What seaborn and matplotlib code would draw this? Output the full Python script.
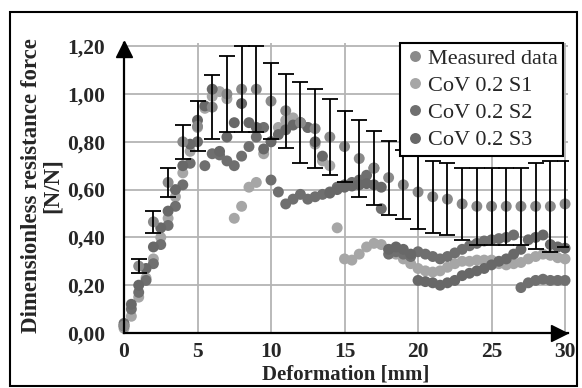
import numpy as np
import pandas as pd
import matplotlib
matplotlib.use("Agg")
import matplotlib.pyplot as plt
import seaborn as sns
from matplotlib.patches import Rectangle

# ---------------- data ----------------
meas_x = list(range(0, 31))
meas_y = [0.03, 0.28, 0.465, 0.63, 0.80, 0.865, 0.945, 1.00, 1.02, 1.02, 0.97,
          0.93, 0.88, 0.855, 0.82, 0.78, 0.73, 0.69, 0.65, 0.62, 0.59,
          0.57, 0.56, 0.54, 0.53, 0.53, 0.53, 0.53, 0.53, 0.53, 0.54]
meas_err = [0.0, 0.03, 0.045, 0.06, 0.07, 0.105, 0.135, 0.16, 0.18, 0.18, 0.16,
            0.155, 0.17, 0.165, 0.16, 0.15, 0.16, 0.155, 0.155, 0.145, 0.155,
            0.15, 0.15, 0.15, 0.16, 0.16, 0.16, 0.16, 0.18, 0.19, 0.18]

sim_x = np.arange(0, 30.01, 0.5)
s1_y = [0.02, 0.07, 0.15, 0.23, 0.31, 0.40, 0.48, 0.57, 0.67, 0.76,
        0.86, 0.94, 0.99, 1.01, 0.98, 0.48, 0.53, 0.61, 0.63, 0.75,
        0.80, 0.86, 0.89, 0.90, 0.88, 0.86, 0.79, 0.72, 0.70, 0.44,
        0.31, 0.305, 0.33, 0.36, 0.375, 0.37, 0.35, 0.33, 0.31, 0.29,
        0.27, 0.26, 0.255, 0.26, 0.275, 0.29, 0.30, 0.30, 0.305, 0.305,
        0.305, 0.29, 0.285, 0.29, 0.295, 0.31, 0.32, 0.33, 0.325, 0.315,
        0.31]
s2_y = [0.04, 0.10, 0.17, 0.22, 0.29, 0.37, 0.45, 0.53, 0.62, 0.71,
        0.80, 0.70, 0.75, 0.745, 0.72, 0.70, 0.74, 0.78, 0.82, 0.86,
        0.64, 0.59, 0.54, 0.56, 0.58, 0.56, 0.57, 0.58, 0.59, 0.61,
        0.62, 0.63, 0.64, 0.66, 0.69, 0.52, 0.33, 0.34, 0.33, 0.32,
        0.34, 0.33, 0.32, 0.31, 0.32, 0.335, 0.35, 0.365, 0.375, 0.385,
        0.39, 0.395, 0.40, 0.41, 0.19, 0.21, 0.22, 0.225, 0.22, 0.22,
        0.22]
s3_y = [0.03, 0.12, 0.20, 0.27, 0.36, 0.44, 0.51, 0.60, 0.70, 0.79,
        0.89, 0.95, 1.02, 0.76, 0.82, 0.88, 0.96, 0.88, 0.86, 0.77,
        0.80, 0.83, 0.85, 0.87, 0.88, 0.86, 0.80, 0.74, 0.585, 0.60,
        0.61, 0.615, 0.62, 0.625, 0.62, 0.61, 0.35, 0.36, 0.35, 0.33,
        0.22, 0.215, 0.21, 0.20, 0.21, 0.22, 0.24, 0.25, 0.26, 0.27,
        0.285, 0.30, 0.31, 0.33, 0.35, 0.39, 0.40, 0.41, 0.37, 0.36,
        0.355]

labels = ["Measured data", "CoV 0.2 S1", "CoV 0.2 S2", "CoV 0.2 S3"]
colors = {"Measured data": "#8a8a8a", "CoV 0.2 S1": "#a6a6a6",
          "CoV 0.2 S2": "#6f6f6f", "CoV 0.2 S3": "#686868"}

frames = []
for name, ys in [("CoV 0.2 S1", s1_y), ("CoV 0.2 S2", s2_y), ("CoV 0.2 S3", s3_y)]:
    frames.append(pd.DataFrame({"x": sim_x, "y": ys, "series": name}))
frames.append(pd.DataFrame({"x": meas_x, "y": meas_y, "series": "Measured data"}))
df = pd.concat(frames, ignore_index=True)

# ---------------- figure ----------------
sns.set_style("white")
serif = ["Liberation Serif", "DejaVu Serif"]
plt.rcParams["font.family"] = serif

fig = plt.figure(figsize=(5.82, 3.88), dpi=100)
ax = fig.add_axes([124 / 582, 55 / 388, (568 - 124) / 582, (333 - 42.6) / 388])

ax.set_xlim(0, 30.2)
ax.set_ylim(0, 1.215)
ax.set_xticks(range(0, 31, 5))
ax.set_yticks(np.round(np.arange(0, 1.21, 0.2), 2))
ax.grid(True, color="#b4b4b4", lw=1.3)
ax.set_axisbelow(True)

sns.scatterplot(data=df, x="x", y="y", hue="series", hue_order=labels,
                palette=colors, s=62, linewidth=0, alpha=1, ax=ax, zorder=3)
for coll in ax.collections:
    coll.set_clip_on(False)

ax.errorbar(meas_x[1:], meas_y[1:], yerr=meas_err[1:], fmt="none", ecolor="black",
            elinewidth=1.3, capsize=5.5, capthick=1.3, zorder=4)

for side in ["top", "right"]:
    ax.spines[side].set_visible(False)
for side in ["left", "bottom"]:
    ax.spines[side].set_color("black")
    ax.spines[side].set_linewidth(1.6)
    ax.spines[side].set_zorder(5)

ax.plot([0], [1.19], marker="^", color="black", markersize=11, clip_on=False, zorder=6)
ax.plot([29.6], [0], marker=">", color="black", markersize=11, clip_on=False, zorder=6)

ax.tick_params(axis="both", direction="inout", length=7, width=1.2, color="black",
               labelsize=15.5)
ax.tick_params(axis="y", pad=10)
ax.tick_params(axis="x", pad=3)
ax.set_yticklabels([f"{v:.2f}".replace(".", ",") for v in np.arange(0, 1.21, 0.2)])
for lab in ax.get_xticklabels() + ax.get_yticklabels():
    lab.set_fontweight("bold")
    lab.set_family(serif)

ax.set_xlabel("")
ax.set_ylabel("")
fig.text(346 / 582, 1 - 375 / 388, "Deformation [mm]", ha="center", va="center",
         fontsize=15, fontweight="bold", family=serif)
fig.text(42 / 582, 1 - 186 / 388, "Dimensionless resistance force\n[N/N]",
         rotation=90, ha="center", va="center", multialignment="center",
         fontsize=16.5, fontweight="bold", family=serif, linespacing=0.95)

handles, labs = ax.get_legend_handles_labels()
leg = ax.legend(handles, labs, loc="upper right", bbox_to_anchor=(0.989, 1.0),
                borderaxespad=0, frameon=True, fancybox=False, framealpha=1,
                edgecolor="black", prop={"family": serif, "size": 16},
                handletextpad=0.1, handlelength=0.9, labelspacing=0.3,
                borderpad=0.25, markerscale=1.0)
leg.get_frame().set_linewidth(1.5)
leg.set_zorder(7)

fig.patches.append(Rectangle((10 / 582, 2 / 388), 567 / 582, 374 / 388,
                             transform=fig.transFigure, fill=False,
                             edgecolor="black", lw=1.5))

fig.savefig("out.png", dpi=100)
